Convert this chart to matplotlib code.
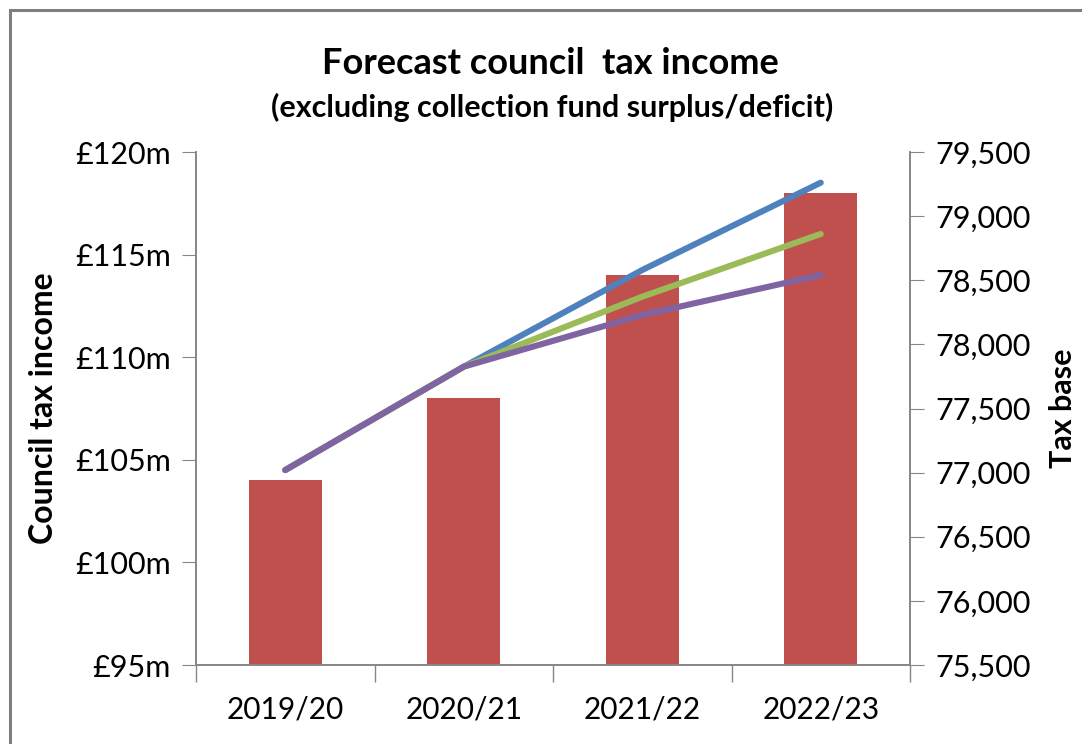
import matplotlib
matplotlib.use('Agg')
import matplotlib.pyplot as plt
from matplotlib.patches import Rectangle
from matplotlib.ticker import FuncFormatter, MultipleLocator

plt.rcParams['font.family'] = ['Lato', 'DejaVu Sans']

# data
years = ['2019/20', '2020/21', '2021/22', '2022/23']
income_m = [104, 108, 114, 118]          # bars, left axis (£m)
base_high = [77020, 77826, 78580, 79261]  # blue line, right axis
base_mid = [77020, 77826, 78372, 78861]   # green line
base_low = [77020, 77826, 78229, 78541]   # purple line

bar_col = '#C0504D'
spine_col = '#868686'

fig = plt.figure(figsize=(10.82, 7.44), dpi=100)
ax = fig.add_axes([196/1082, 1-665/744, (910-196)/1082, (665-152)/744])
x = range(len(years))
ax.bar(x, income_m, width=0.41, color=bar_col, zorder=2)
ax.set_xlim(-0.5, 3.5)
ax.set_ylim(95, 120)
ax.yaxis.set_major_locator(MultipleLocator(5))
ax.yaxis.set_major_formatter(FuncFormatter(lambda v, p: '£%dm' % v))
ax.set_xticks(list(x))
ax.set_xticklabels(years)
ax.set_xticks([-0.5, 0.5, 1.5, 2.5, 3.5], minor=True)
ax.tick_params(axis='x', which='major', length=0, labelsize=21.5, pad=22)
ax.tick_params(axis='x', which='minor', length=12, color=spine_col, width=1)
ax.tick_params(axis='y', length=10, color=spine_col, labelsize=22, pad=8)
ax.set_ylabel('Council tax income', fontsize=23, fontweight='bold', labelpad=12)

ax2 = ax.twinx()
ax2.plot(x, base_high, color='#4F81BD', lw=4.4, solid_capstyle='round', zorder=3)
ax2.plot(x, base_mid, color='#9BBB59', lw=4.4, solid_capstyle='round', zorder=4)
ax2.plot(x, base_low, color='#8064A2', lw=4.4, solid_capstyle='round', zorder=5)
ax2.set_ylim(75500, 79500)
ax2.yaxis.set_major_locator(MultipleLocator(500))
ax2.yaxis.set_major_formatter(FuncFormatter(lambda v, p: '{:,.0f}'.format(v)))
ax2.tick_params(axis='y', length=10, color=spine_col, labelsize=22, pad=8)
ax2.set_ylabel('Tax base', fontsize=22, fontweight='bold', labelpad=13)

for a in (ax, ax2):
    a.spines['top'].set_visible(False)
    for s in ('left', 'right', 'bottom'):
        a.spines[s].set_color(spine_col)
        a.spines[s].set_linewidth(1.2)

fig.text(550/1082, 1-63/744, 'Forecast council  tax income', ha='center', va='center',
         fontsize=26, fontweight='bold')
fig.text(552/1082, 1-107/744, '(excluding collection fund surplus/deficit)', ha='center',
         va='center', fontsize=22, fontweight='bold')

fig.patches.append(Rectangle((10/1082, -0.1), 1.2, 1-10/744+0.1, transform=fig.transFigure,
                             fill=False, edgecolor='#7F7F7F', lw=2.2))

fig.savefig('out.png', dpi=100)
